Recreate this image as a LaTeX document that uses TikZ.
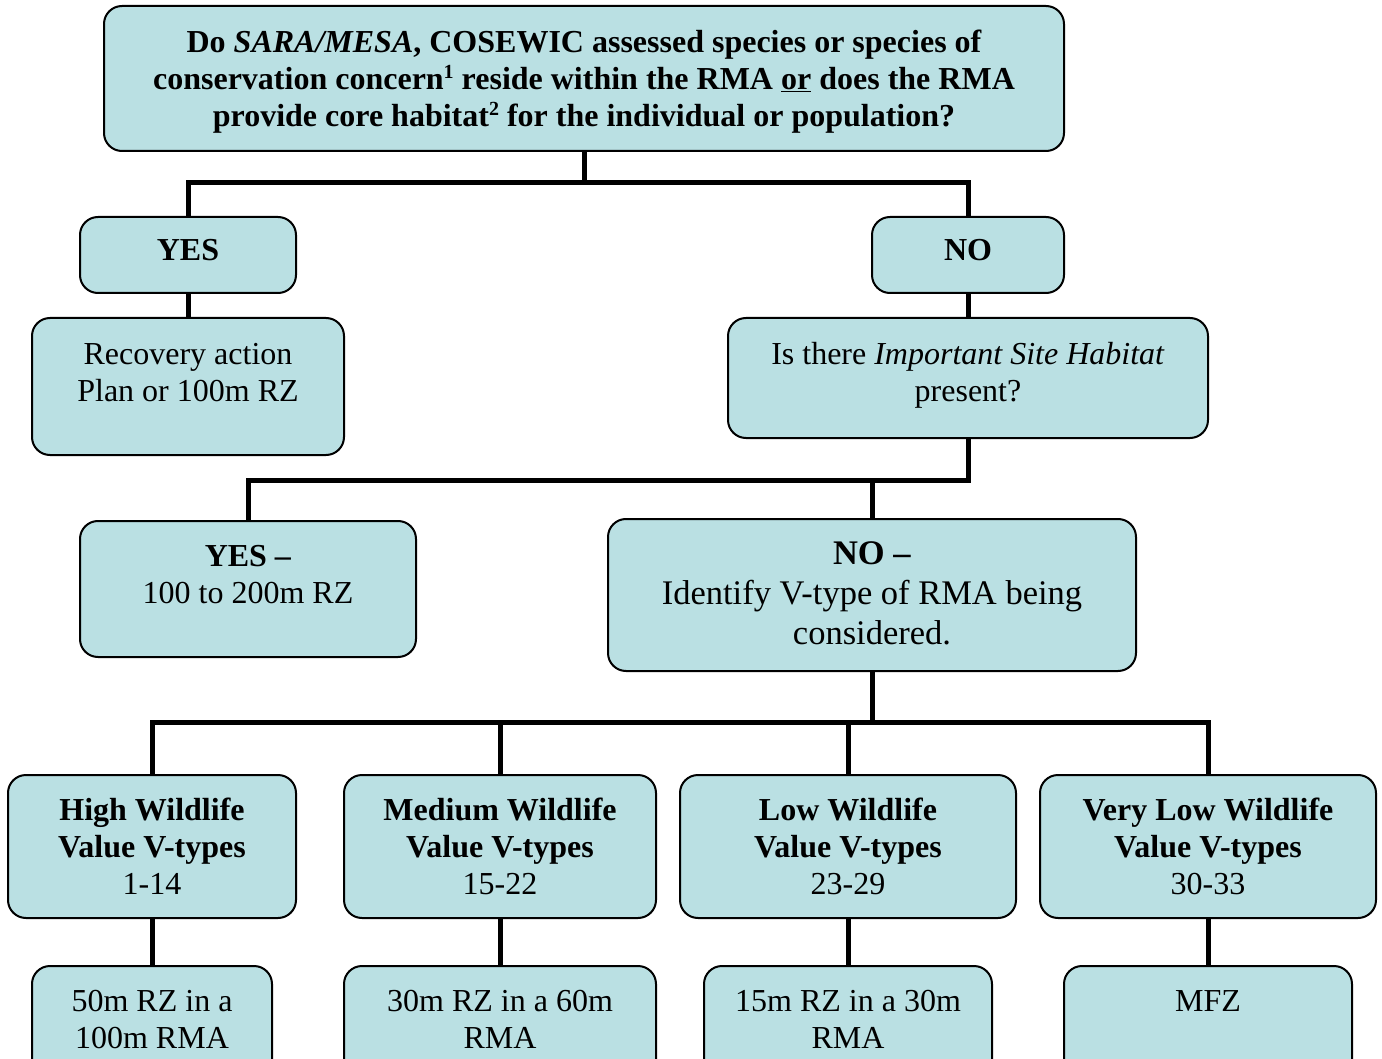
\documentclass[tikz,border=0pt]{standalone}
\usepackage{fontspec}
\setmainfont{Liberation Serif}
\usetikzlibrary{backgrounds}
\definecolor{boxfill}{RGB}{186,224,227}
% raised footnote mark
\newcommand{\fnmark}[1]{\raisebox{11pt}{\fontsize{20}{20}\selectfont #1}}
\begin{document}
\begin{tikzpicture}[x=1pt,y=-1pt,
  box/.style={draw=black, line width=2pt, fill=boxfill, rounded corners=18pt, inner sep=0pt},
  txt/.style={align=center, inner sep=0pt, anchor=north, font=\fontsize{32}{37}\selectfont},
  bigtxt/.style={align=center, inner sep=0pt, anchor=north, font=\fontsize{34.5}{40}\selectfont},
  conn/.style={line width=5pt}]
\useasboundingbox (0,0) rectangle (1382,1059);
\clip (0,0) rectangle (1382,1059);

% boxes
\node[box, minimum width=960pt, minimum height=145pt] (q) at (584,78.5) {};
\node[box, minimum width=216pt, minimum height=76pt] (yes) at (188,255) {};
\node[box, minimum width=192pt, minimum height=76pt] (no) at (968,255) {};
\node[box, minimum width=312pt, minimum height=137pt] (rec) at (188,386.5) {};
\node[box, minimum width=480pt, minimum height=120pt] (ish) at (968,378) {};
\node[box, minimum width=336pt, minimum height=136pt] (yes2) at (248,589) {};
\node[box, minimum width=528pt, minimum height=152pt] (no2) at (872,595) {};
\node[box, minimum width=288pt, minimum height=143pt] (high) at (152,846.5) {};
\node[box, minimum width=312pt, minimum height=143pt] (med) at (500,846.5) {};
\node[box, minimum width=336pt, minimum height=143pt] (low) at (848,846.5) {};
\node[box, minimum width=336pt, minimum height=143pt] (vlow) at (1208,846.5) {};
\node[box, minimum width=240pt, minimum height=134pt] (f1) at (152,1033) {};
\node[box, minimum width=312pt, minimum height=134pt] (f2) at (500,1033) {};
\node[box, minimum width=288pt, minimum height=134pt] (f3) at (848,1033) {};
\node[box, minimum width=288pt, minimum height=134pt] (f4) at (1208,1033) {};

% texts
\node[txt, font=\fontsize{32}{37}\selectfont\bfseries] (tq) at (584,26)
  {\strut Do \textit{SARA/MESA}, COSEWIC assessed species or species of\\
   conservation concern\fnmark{1} reside within the RMA \underline{or} does the RMA\\
   provide core habitat\fnmark{2} for the individual or population?};
\node[txt, font=\fontsize{32}{37}\selectfont\bfseries] (tyes) at (188,234) {\strut YES};
\node[txt, font=\fontsize{32}{37}\selectfont\bfseries] (tno) at (968,234) {\strut NO};
\node[txt] (trec) at (188,338) {\strut Recovery action\\ Plan or 100m RZ};
\node[txt] (tish) at (968,338) {\strut Is there \textit{Important Site Habitat}\\ present?};
\node[txt] (tyes2) at (248,540) {\strut\textbf{YES –}\\ 100 to 200m RZ};
\node[bigtxt] (tno2) at (872,536) {\strut\textbf{NO –}\\ Identify V-type of RMA being\\ considered.};
\node[txt] (thigh) at (152,794) {\strut\textbf{High Wildlife}\\ \textbf{Value V-types}\\ 1-14};
\node[txt] (tmed) at (500,794) {\strut\textbf{Medium Wildlife}\\ \textbf{Value V-types}\\ 15-22};
\node[txt] (tlow) at (848,794) {\strut\textbf{Low Wildlife}\\ \textbf{Value V-types}\\ 23-29};
\node[txt] (tvlow) at (1208,794) {\strut\textbf{Very Low Wildlife}\\ \textbf{Value V-types}\\ 30-33};
\node[txt] (tf1) at (152,985) {\strut 50m RZ in a\\ 100m RMA};
\node[txt] (tf2) at (500,985) {\strut 30m RZ in a 60m\\ RMA};
\node[txt] (tf3) at (848,985) {\strut 15m RZ in a 30m\\ RMA};
\node[txt] (tf4) at (1208,985) {\strut MFZ};

% connectors behind the boxes
\begin{pgfonlayer}{background}
\coordinate (j1) at (584,183);
\coordinate (j2) at (968,480);
\coordinate (j3) at (872,722);
\draw[conn] (q.south) -- (j1);
\draw[conn] (yes.north) |- (j1) -| (no.north);
\draw[conn] (yes.south) -- (rec.north);
\draw[conn] (no.south) -- (ish.north);
\draw[conn] (ish.south) -- (j2) -| (yes2.north);
\draw[conn] (no2.north) -- (no2.north |- j2);
\draw[conn] (no2.south) -- (j3);
\draw[conn] (high.north) |- (j3) -| (vlow.north);
\draw[conn] (med.north) -- (med.north |- j3);
\draw[conn] (low.north) -- (low.north |- j3);
\draw[conn] (high.south) -- (f1.north);
\draw[conn] (med.south) -- (f2.north);
\draw[conn] (low.south) -- (f3.north);
\draw[conn] (vlow.south) -- (f4.north);
\end{pgfonlayer}
\end{tikzpicture}
\end{document}
